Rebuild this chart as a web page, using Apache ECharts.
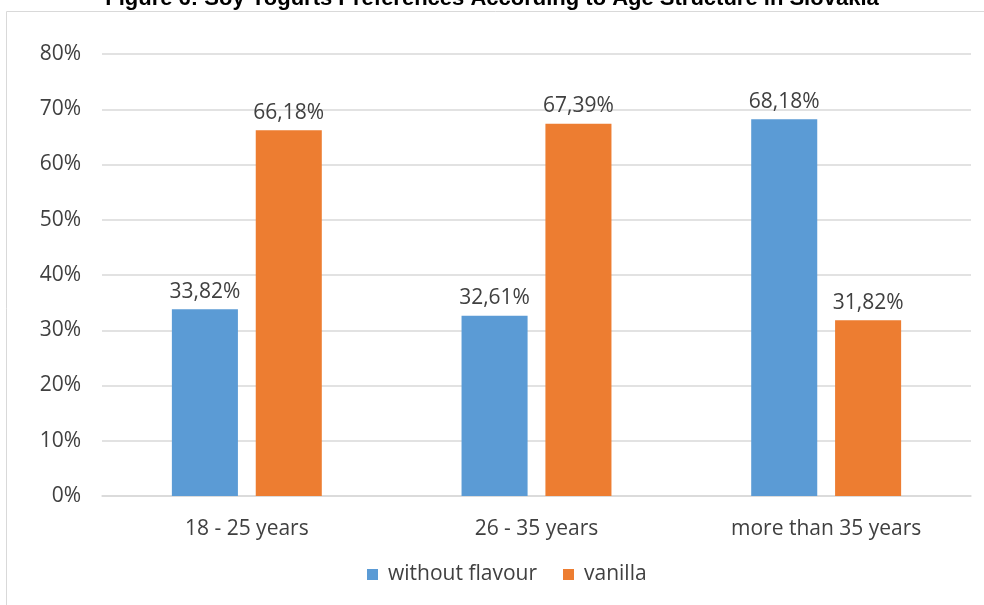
<!DOCTYPE html>
<html>
<head>
<meta charset="utf-8">
<script src="https://cdn.jsdelivr.net/npm/echarts@6/dist/echarts.min.js"></script>
<style>
  html, body { margin: 0; padding: 0; background: #fff; }
  #main { width: 984px; height: 605px; }
</style>
</head>
<body>
<div id="main"></div>
<script>
// data
const categories = ['18 - 25 years', '26 - 35 years', 'more than 35 years'];
const withoutFlavour = [33.82, 32.61, 68.18];
const vanilla = [66.18, 67.39, 31.82];
const yTicks = [0, 10, 20, 30, 40, 50, 60, 70, 80];

const FONT = '"Open Sans", sans-serif';
const TXT = '#404040';

function pct(v) {
  return v.toFixed(2).replace('.', ',') + '%';
}

let chart = echarts.init(document.getElementById('main'));
chart.setOption({
  animation: false,
  title: {
    text: 'Figure 6: Soy Yogurts Preferences According to Age Structure in Slovakia',
    left: 'center',
    top: -17,
    textStyle: { fontFamily: '"Liberation Sans", Arial, sans-serif', fontSize: 22, fontWeight: 'bold', color: '#000' }
  },
  // outer chart border
  graphic: [{
    type: 'rect',
    shape: { x: 6.5, y: 11.5, width: 990, height: 600 },
    style: { fill: null, stroke: '#d9d9d9', lineWidth: 1 },
    silent: true
  }],
  legend: {
    bottom: 15,
    left: 362,
    itemWidth: 11,
    itemHeight: 11,
    itemGap: 26,
    icon: 'rect',
    textStyle: { fontFamily: FONT, fontSize: 21, color: TXT, padding: [0, 0, 0, 5] },
    data: ['without flavour', 'vanilla']
  },
  grid: { left: 102, right: 13, top: 54, bottom: 109 },
  xAxis: {
    type: 'category',
    data: categories,
    axisTick: { show: false },
    axisLine: { lineStyle: { color: '#d9d9d9', width: 1.5 } },
    axisLabel: { fontFamily: FONT, fontSize: 21, color: TXT, margin: 23 }
  },
  yAxis: {
    type: 'value',
    min: yTicks[0],
    max: yTicks[yTicks.length - 1],
    interval: 10,
    axisLine: { show: false },
    axisTick: { show: false },
    splitLine: { lineStyle: { color: '#d9d9d9', width: 1.5 } },
    axisLabel: { fontFamily: FONT, fontSize: 21, color: TXT, margin: 21, formatter: '{value}%' }
  },
  series: [
    {
      name: 'without flavour',
      type: 'bar',
      data: withoutFlavour,
      barWidth: '22.8%',
      barGap: '27%',
      itemStyle: { color: '#5B9BD5' },
      label: {
        show: true, position: 'top', distance: 7,
        fontFamily: FONT, fontSize: 21, color: TXT,
        formatter: p => pct(p.value)
      }
    },
    {
      name: 'vanilla',
      type: 'bar',
      data: vanilla,
      barWidth: '22.8%',
      itemStyle: { color: '#ED7D31' },
      label: {
        show: true, position: 'top', distance: 7,
        fontFamily: FONT, fontSize: 21, color: TXT,
        formatter: p => pct(p.value)
      }
    }
  ]
});
</script>
</body>
</html>
